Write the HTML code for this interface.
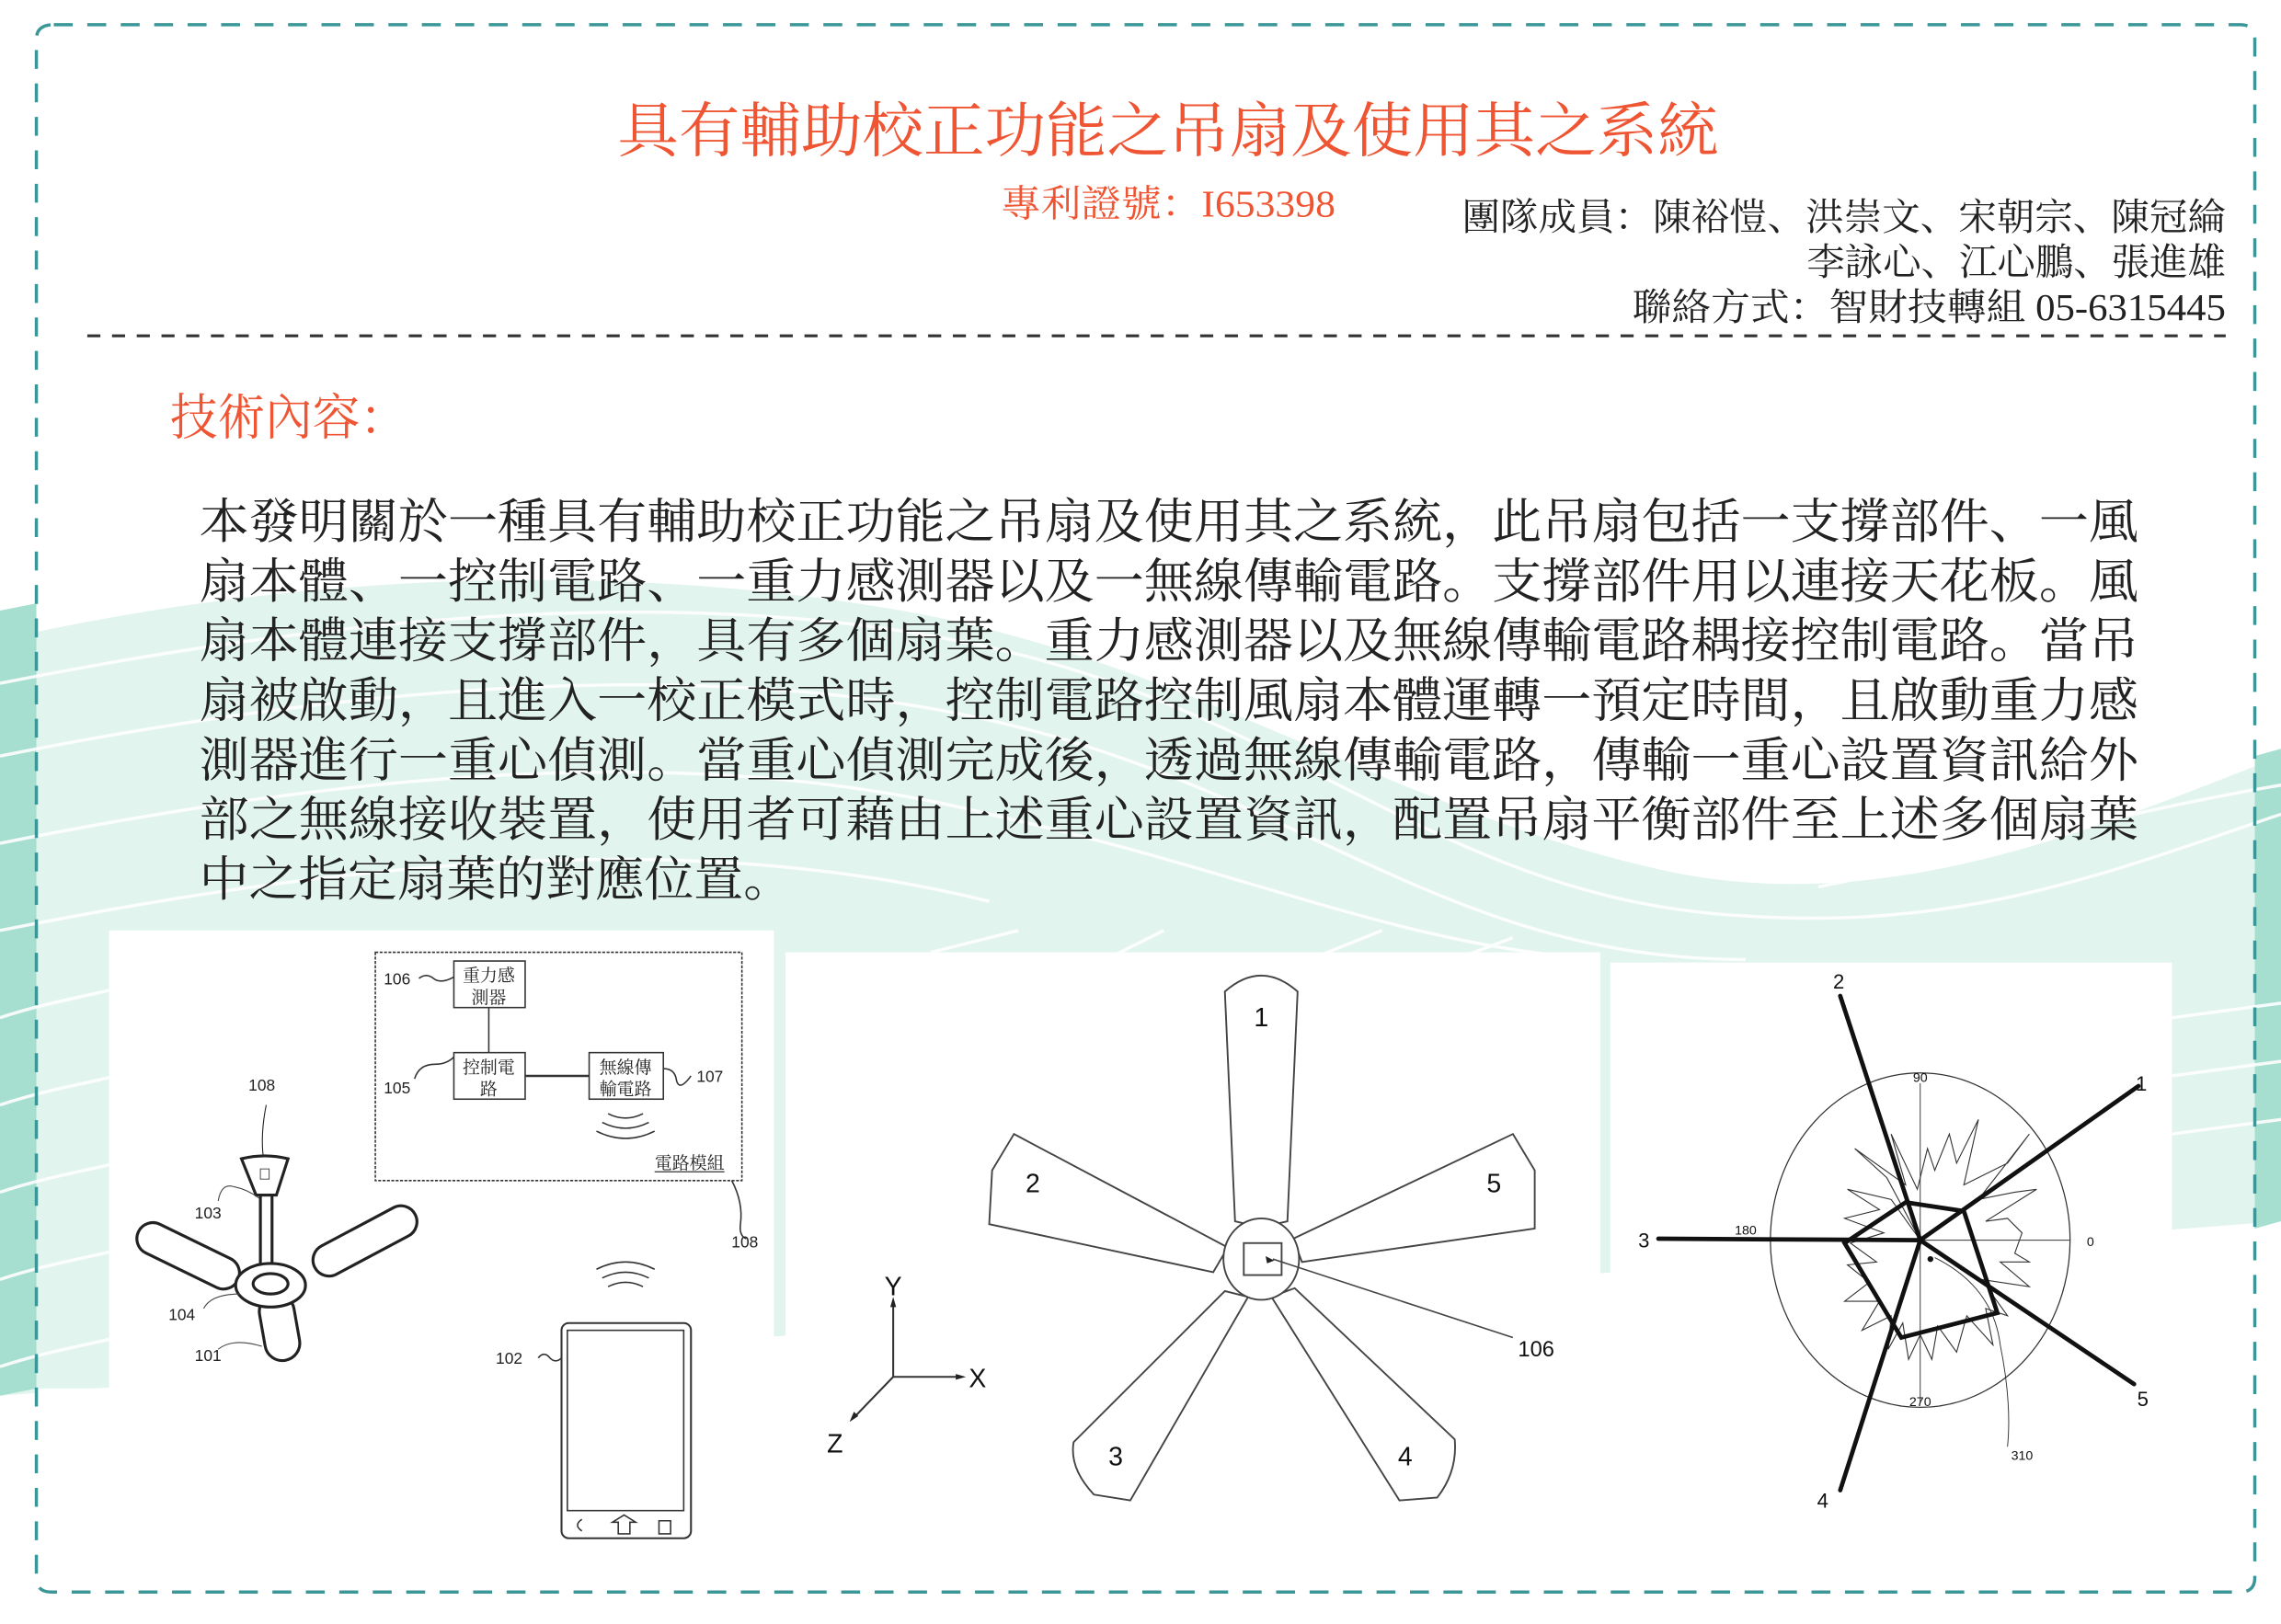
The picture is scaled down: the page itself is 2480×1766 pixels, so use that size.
<!DOCTYPE html>
<html><head><meta charset="utf-8"><style>
html,body{margin:0;padding:0;background:#fff;}
svg{display:block;}
.cj{font-family:"Liberation Serif","Noto Serif CJK SC","Noto Sans CJK TC",serif;}
.sn{font-family:"Liberation Sans","Noto Sans CJK TC",sans-serif;}
</style></head><body>
<svg width="2480" height="1766" viewBox="0 0 1568 1117" preserveAspectRatio="none" xmlns="http://www.w3.org/2000/svg">
<rect width="1568" height="1117" fill="#fff"/>
<!-- background waves -->
<path d="M0,440 C200,395 420,385 620,420 C820,455 960,560 1150,600 C1300,630 1440,570 1568,520 L1568,840 L1493,840 L1493,660 L0,660 Z" fill="#e2f4ee"/>
<path d="M0,660 L1568,660 L1568,840 L0,960 Z" fill="#e2f4ee"/>
<path d="M0,420 L25,415 L25,955 L0,960 Z" fill="#a6dfcf"/>
<path d="M1550,520 L1568,515 L1568,840 L1550,845 Z" fill="#a6dfcf"/>
<g stroke="#fff" stroke-width="2.2" fill="none" opacity="0.9">
<path d="M0,470 C250,420 500,400 700,450 C900,500 1000,620 1200,630 C1350,640 1450,600 1568,560"/>
<path d="M0,520 C250,470 500,450 700,500 C900,550 1000,660 1200,660"/>
<path d="M0,580 C250,530 480,510 680,560 C860,600 960,650 1100,660"/>
<path d="M0,640 C250,590 480,570 680,620"/>
<path d="M0,700 C30,690 60,685 80,680"/>
<path d="M0,760 C30,750 60,745 80,740"/>
<path d="M0,820 C30,810 60,805 80,800"/>
<path d="M0,880 C30,870 60,865 80,860"/>
<path d="M0,940 C30,930 60,925 80,920"/>
<path d="M1250,610 C1350,590 1450,560 1568,540"/>
<path d="M1493,700 L1568,690"/><path d="M1493,740 L1568,730"/><path d="M1493,780 L1568,770"/>
<path d="M1000,440 C1150,470 1300,470 1568,430"/>
<path d="M640,655 L700,640 M760,660 L800,640 M900,660 L950,640 M1000,660 L1040,645"/>
</g>
<!-- white panels -->
<rect x="75" y="640" width="457" height="460" fill="#fff"/>
<rect x="540" y="655" width="560" height="445" fill="#fff"/>
<rect x="1107" y="662" width="386" height="438" fill="#fff"/>
<rect x="26" y="955" width="1522" height="140" fill="#fff"/>
<!-- border -->
<path d="M37,17 L1540,17 Q1550,17 1550,27 L1550,1085 Q1550,1095 1540,1095 L35,1095 Q25,1095 25,1085 L25,27 Q25,17 37,17 Z" fill="none" stroke="#3b9797" stroke-width="2.2" stroke-dasharray="13,10"/>
<!-- header -->
<text class="cj" x="803" y="104" text-anchor="middle" font-size="41" fill="#ef5533" textLength="757" lengthAdjust="spacingAndGlyphs">具有輔助校正功能之吊扇及使用其之系統</text>
<text class="cj" x="688" y="149" font-size="26" fill="#ef5533" textLength="230" lengthAdjust="spacingAndGlyphs">專利證號：I653398</text>
<text class="cj" x="1530" y="158" text-anchor="end" font-size="26" fill="#222" textLength="525" lengthAdjust="spacingAndGlyphs">團隊成員：陳裕愷、洪崇文、宋朝宗、陳冠綸</text>
<text class="cj" x="1530" y="189" text-anchor="end" font-size="26" fill="#222" textLength="288" lengthAdjust="spacingAndGlyphs">李詠心、江心鵬、張進雄</text>
<text class="cj" x="1530" y="220" text-anchor="end" font-size="26" fill="#222" textLength="408" lengthAdjust="spacingAndGlyphs">聯絡方式：智財技轉組 05-6315445</text>
<line x1="60" y1="231" x2="1530" y2="231" stroke="#333" stroke-width="2" stroke-dasharray="9,8"/>
<text class="cj" x="117" y="299" font-size="34" fill="#ef5533" textLength="163" lengthAdjust="spacingAndGlyphs">技術內容：</text>
<g class="cj" font-size="33" fill="#222">
<text x="137" y="370" textLength="1333" lengthAdjust="spacingAndGlyphs">本發明關於一種具有輔助校正功能之吊扇及使用其之系統，此吊扇包括一支撐部件、一風</text>
<text x="137" y="411" textLength="1333" lengthAdjust="spacingAndGlyphs">扇本體、一控制電路、一重力感測器以及一無線傳輸電路。支撐部件用以連接天花板。風</text>
<text x="137" y="452" textLength="1333" lengthAdjust="spacingAndGlyphs">扇本體連接支撐部件，具有多個扇葉。重力感測器以及無線傳輸電路耦接控制電路。當吊</text>
<text x="137" y="493" textLength="1333" lengthAdjust="spacingAndGlyphs">扇被啟動，且進入一校正模式時，控制電路控制風扇本體運轉一預定時間，且啟動重力感</text>
<text x="137" y="534" textLength="1333" lengthAdjust="spacingAndGlyphs">測器進行一重心偵測。當重心偵測完成後，透過無線傳輸電路，傳輸一重心設置資訊給外</text>
<text x="137" y="575" textLength="1333" lengthAdjust="spacingAndGlyphs">部之無線接收裝置，使用者可藉由上述重心設置資訊，配置吊扇平衡部件至上述多個扇葉</text>
<text x="137" y="616" textLength="408" lengthAdjust="spacingAndGlyphs">中之指定扇葉的對應位置。</text>
</g>
<!-- block diagram -->
<g fill="none" stroke="#333" stroke-width="1">
<rect x="258" y="655" width="252" height="157" stroke-dasharray="2,1"/>
<rect x="312" y="661" width="49" height="32"/>
<rect x="312" y="724" width="49" height="32"/>
<rect x="405" y="724" width="51" height="32"/>
<line x1="336" y1="693" x2="336" y2="724"/>
<line x1="361" y1="740" x2="405" y2="740" stroke-width="1.6"/>
<path d="M288,673 q5,-4 10,0 q5,4 14,-1"/>
<path d="M285,742 q3,-10 14,-10 q8,0 13,-5"/>
<path d="M456,735 q8,0 9,8 q2,8 10,-3"/>
<path d="M418,766 q12,6 24,0 M414,772 q16,8 32,0 M410,778 q20,10 40,0"/>
<path d="M503,812 q8,15 6,30 q-1,8 4,10"/>
<path d="M418,885 q12,-6 24,0 M414,879 q16,-8 32,0 M410,873 q20,-10 40,0"/>
<rect x="386" y="910" width="89" height="148" rx="5" stroke-width="1.3"/>
<rect x="390" y="915" width="80" height="124"/>
<path d="M370,934 q4,-5 8,0 q4,4 8,0"/>
<path d="M400,1045 q-6,4 0,8 M425,1055 v-8 h-4 l8,-5 l8,5 h-4 v8 z M453,1046 h8 v9 h-8 z"/>
</g>
<g class="sn" font-size="11" fill="#222">
<text x="273" y="677" text-anchor="middle">106</text>
<text x="273" y="752" text-anchor="middle">105</text>
<text x="488" y="744" text-anchor="middle">107</text>
<text x="512" y="858" text-anchor="middle">108</text>
<text x="180" y="750" text-anchor="middle">108</text>
<text x="143" y="838" text-anchor="middle">103</text>
<text x="125" y="908" text-anchor="middle">104</text>
<text x="143" y="936" text-anchor="middle">101</text>
<text x="350" y="938" text-anchor="middle">102</text>
</g>
<g class="cj" font-size="12" fill="#222" text-anchor="middle">
<text x="336" y="675">重力感</text><text x="336" y="690">測器</text>
<text x="336" y="738">控制電</text><text x="336" y="753">路</text>
<text x="430" y="738">無線傳</text><text x="430" y="753">輸電路</text>
<text x="474" y="804">電路模組</text>
</g>
<line x1="450" y1="806" x2="498" y2="806" stroke="#333" stroke-width="0.8"/>
<!-- small ceiling fan -->
<g stroke="#222" stroke-width="2" fill="#fff">
<path d="M183,760 q-4,20 -2,36" fill="none" stroke-width="0.7"/>
<g transform="rotate(26 128 862)"><rect x="92" y="852" width="76" height="22" rx="11"/></g>
<g transform="rotate(-28 250 854)"><rect x="212" y="843" width="78" height="22" rx="11"/></g>
<g transform="rotate(80 192 912)"><rect x="170" y="900" width="46" height="24" rx="12"/></g>
<path d="M166,797 Q182,793 198,797 L190,822 L176,822 Z"/>
<rect x="179" y="822" width="8" height="50"/>
<path d="M177,870 L189,870 L197,880 L169,880 Z"/>
<ellipse cx="186" cy="884" rx="24" ry="15"/>
<ellipse cx="186" cy="883" rx="12" ry="7"/>
</g>
<rect x="179" y="804" width="6" height="7" fill="none" stroke="#444" stroke-width="0.6"/>
<g fill="none" stroke="#444" stroke-width="0.7">
<path d="M150,826 q2,-12 10,-10 q10,2 18,8"/><path d="M140,900 q5,-10 25,-10"/><path d="M150,928 q10,-8 30,-2"/>
</g>
<!-- 5-blade fan -->
<g fill="#fff" stroke="#444" stroke-width="1.2">
<path d="M842,682 Q867,660 892,682 L885,840 Q867,845 849,840 Z"/>
<path d="M697,780 L682,805 L680,842 L834,875 L844,858 Z"/>
<path d="M1040,780 L1055,805 L1055,845 L895,868 L889,852 Z"/>
<path d="M842,888 L858,892 L777,1032 L752,1028 Q735,1010 738,992 Z"/>
<path d="M874,892 L890,886 L1000,990 Q1002,1012 988,1030 L962,1032 Z"/>
<ellipse cx="867" cy="866" rx="26" ry="28"/>
<rect x="855" y="855" width="26" height="22"/>
</g>
<path d="M875,866 L1040,920" stroke="#444" stroke-width="1" fill="none"/>
<path d="M870,864 l6,3 l-5,2 z" fill="#222"/>
<g class="sn" font-size="18" fill="#111" text-anchor="middle">
<text x="867" y="706">1</text><text x="710" y="820">2</text><text x="1027" y="820">5</text>
<text x="767" y="1008">3</text><text x="966" y="1008">4</text>
<text x="1056" y="933" font-size="15">106</text>
<text x="614" y="891">Y</text><text x="672" y="954">X</text><text x="574" y="999">Z</text>
</g>
<g stroke="#333" stroke-width="1.3" fill="none">
<path d="M614,947 V895 M614,947 H660 M614,947 L587,975"/>
</g>
<path d="M614,892 l-2,7 h4 z M664,947 l-7,-2 v4 z M584,978 l3,-7 l3,3 z" fill="#222"/>
<!-- polar plot -->
<g fill="none" stroke="#333">
<ellipse cx="1320" cy="853" rx="103" ry="115" stroke-width="0.8"/>
<line x1="1320" y1="745" x2="1320" y2="965" stroke-width="0.6"/>
<line x1="1218" y1="853" x2="1423" y2="853" stroke-width="0.6"/>
<path stroke-width="0.7" d="M1320,853 L1297,810 L1275,790 L1310,815 L1300,780 L1318,818 L1325,790 L1330,805 L1340,780 L1345,800 L1360,770 L1350,815 L1380,800 L1395,780 L1360,825 L1385,820 L1400,818 L1365,840 L1380,838 L1390,848 L1385,862 L1395,868 L1375,868 L1395,885 L1362,880 L1380,905 L1365,900 L1370,925 L1352,905 L1345,930 L1332,912 L1328,935 L1320,918 L1312,935 L1308,910 L1298,928 L1300,905 L1280,915 L1292,895 L1268,895 L1285,882 L1270,870 L1290,868 L1272,855 L1295,848 L1268,838 L1292,832 L1270,818 L1300,825 Z"/>
<path d="M1330,865 q40,20 45,60 q8,40 5,70" stroke-width="0.6"/>
</g>
<g stroke="#111" stroke-width="3" fill="none" stroke-linecap="round">
<line x1="1320" y1="853" x2="1265" y2="685"/>
<line x1="1320" y1="853" x2="1470" y2="747"/>
<line x1="1320" y1="853" x2="1140" y2="852"/>
<line x1="1320" y1="853" x2="1467" y2="952"/>
<line x1="1320" y1="853" x2="1265" y2="1025"/>
<path d="M1310,827 L1350,833 L1373,903 L1307,920 L1268,855 Z"/>
</g>
<circle cx="1327" cy="866" r="2" fill="#111"/>
<g class="sn" fill="#111" text-anchor="middle">
<text x="1264" y="680" font-size="14">2</text><text x="1472" y="750" font-size="14">1</text>
<text x="1130" y="858" font-size="14">3</text><text x="1473" y="967" font-size="14">5</text>
<text x="1253" y="1037" font-size="14">4</text>
<text x="1320" y="744" font-size="9">90</text><text x="1437" y="857" font-size="9">0</text>
<text x="1200" y="849" font-size="9">180</text><text x="1320" y="967" font-size="9">270</text>
<text x="1390" y="1004" font-size="9">310</text>
</g>
</svg>
</body></html>
